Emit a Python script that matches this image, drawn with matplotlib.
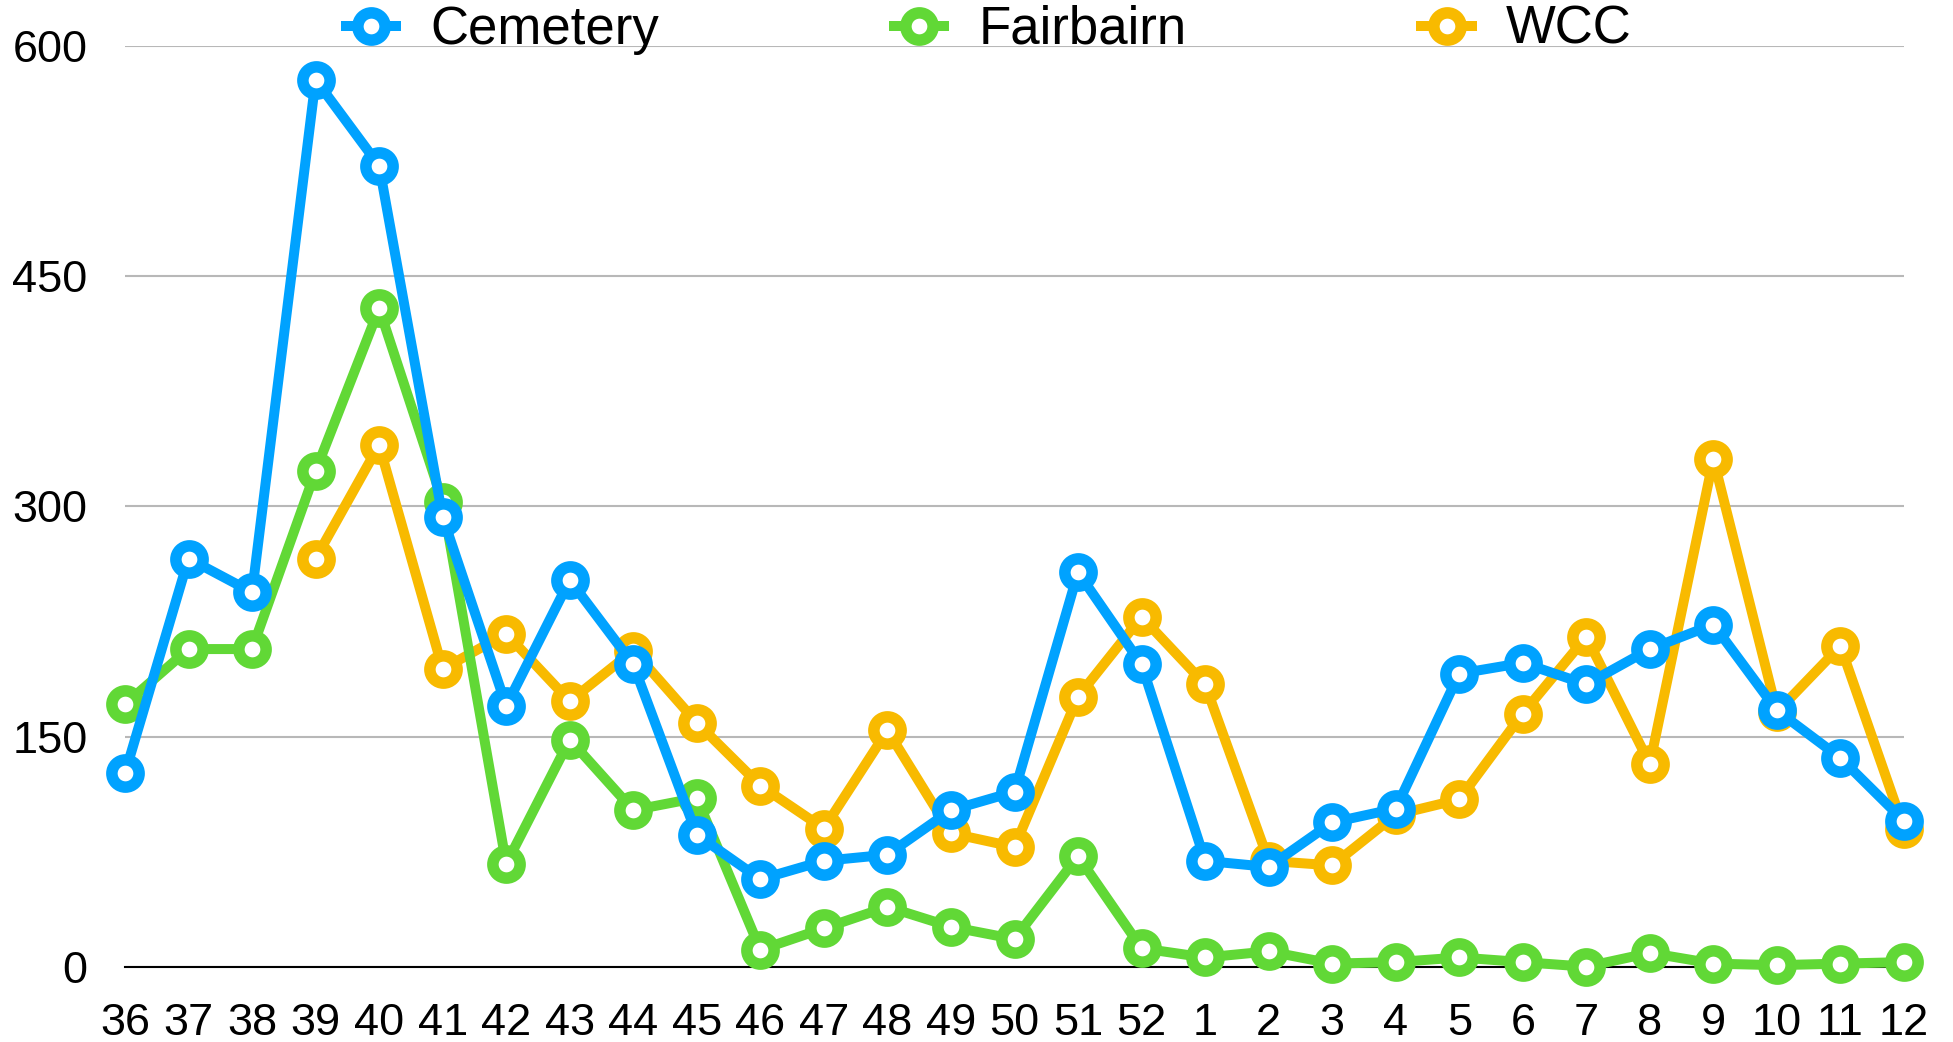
import matplotlib.pyplot as plt
import numpy as np

plt.rcParams['font.family'] = ['Liberation Sans', 'DejaVu Sans']

weeks = ['36', '37', '38', '39', '40', '41', '42', '43', '44', '45', '46', '47', '48',
         '49', '50', '51', '52', '1', '2', '3', '4', '5', '6', '7', '8', '9', '10', '11', '12']

cemetery = [126, 266, 244, 578, 522, 293, 170, 252, 197, 86, 57, 69, 73, 102, 114, 257, 197,
            69, 65, 94, 103, 191, 198, 184, 207, 223, 167, 136, 95]
fairbairn = [171, 207, 207, 323, 429, 303, 67, 148, 102, 110, 11, 25, 39, 26, 18, 72, 12,
             6, 10, 2, 3, 6, 3, 0, 9, 2, 1, 2, 3]
wcc = [np.nan, np.nan, np.nan, 266, 340, 194, 217, 173, 206, 159, 118, 90, 154, 87, 78, 176, 228,
       184, 69, 66, 99, 109, 165, 215, 132, 331, 166, 209, 90]

yticks = [0, 150, 300, 450, 600]

# series, colour, drawing order (Cemetery on top)
series = [
    ('Cemetery', cemetery, '#00A2FF', 5),
    ('Fairbairn', fairbairn, '#61D836', 4),
    ('WCC', wcc, '#F8BA00', 3),
]

fig = plt.figure(figsize=(19.53, 10.42), dpi=100)
ax = fig.add_axes([125 / 1953, 1 - 966.7 / 1042, (1904 - 125) / 1953, (966.7 - 46) / 1042])

x = np.arange(len(weeks))
for name, vals, col, z in series:
    ax.plot(x, vals, color=col, lw=7.2, marker='o', ms=19.6, mew=8.3,
            mfc='white', mec=col, label=name, zorder=z, clip_on=False,
            solid_joinstyle='round')

ax.set_xlim(0, len(weeks) - 1)
ax.set_ylim(0, 600)
ax.set_yticks(yticks)
ax.set_yticklabels([str(v) for v in yticks])
ax.set_xticks(x)
ax.set_xticklabels(weeks)

ax.yaxis.grid(True, color='#B8B8B8', lw=1.5)
ax.set_axisbelow(True)
for s in ['top', 'right', 'left']:
    ax.spines[s].set_visible(False)
ax.spines['bottom'].set_color('black')
ax.spines['bottom'].set_linewidth(1.5)
ax.spines['bottom'].set_zorder(2)

ax.tick_params(axis='both', length=0, labelsize=32.5)
ax.tick_params(axis='x', pad=26)
ax.tick_params(axis='y', pad=27)

handles, labels = ax.get_legend_handles_labels()
leg = fig.legend(handles, labels, loc='center left',
                 bbox_to_anchor=(346 / 1953, 1 - 30 / 1042),
                 bbox_transform=fig.transFigure, ncol=3, frameon=False,
                 fontsize=38, borderpad=0, borderaxespad=0,
                 handlelength=0.95, handletextpad=0.65, columnspacing=4.45)

fig.savefig('out.png', dpi=100)
